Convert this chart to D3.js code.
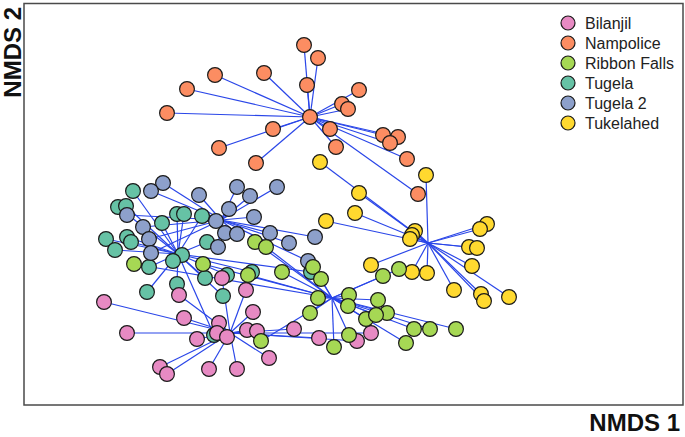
<!DOCTYPE html>
<html>
<head>
<meta charset="utf-8">
<script src="https://cdn.jsdelivr.net/npm/d3@7"></script>
<style>
 body { margin:0; background:#fff; }
 text { font-family: "Liberation Sans", Arial, sans-serif; }
</style>
</head>
<body>
<div id="chart"></div>
<script>
// NMDS scores, one array per site
const groupNames = ['Bilanjil','Nampolice','Ribbon Falls','Tugela','Tugela 2','Tukelahed'];
const groupColors = ['#E78AC3','#FC8D62','#A6D854','#66C2A5','#8DA0CB','#FFD92F'];

const bilanjil = [[-2.46,-0.72],[-2.23,-1.03],[-1.71,-0.65],[-1.66,-0.88],[-1.28,-0.48],[-1.04,-0.60],
 [-0.97,-0.82],[-1.31,-0.93],[-1.53,-1.09],[-1.33,-1.03],[-1.23,-1.07],[-1.03,-1.00],[-0.93,-1.01],
 [-0.56,-0.99],[-0.31,-1.08],[0.07,-1.11],[0.21,-1.03],[-0.81,-1.28],[-1.90,-1.37],[-1.83,-1.44],
 [-1.41,-1.39],[-1.13,-1.39]];

const nampolice = [[-0.46,1.85],[-0.32,1.72],[-1.35,1.55],[-0.86,1.57],[-1.63,1.41],[-0.43,1.45],
 [0.09,1.40],[-1.83,1.17],[-0.08,1.26],[-0.02,1.21],[-0.40,1.13],[-0.77,1.01],[-0.20,1.01],
 [-1.31,0.82],[-0.14,0.83],[0.33,0.95],[0.48,0.93],[0.40,0.87],[0.57,0.71],[-0.94,0.67],[0.68,0.36]];

const ribbonFalls = [[-0.95,-0.12],[-0.84,-0.17],[-2.16,-0.34],[-1.47,-0.34],[-1.02,-0.45],[-0.68,-0.42],
 [-0.37,-0.37],[-0.29,-0.49],[-0.32,-0.68],[-0.40,-0.83],[-0.01,-0.65],[-0.02,-0.76],[0.33,-0.46],
 [0.49,-0.39],[0.28,-0.70],[0.37,-0.83],[0.16,-0.89],[0.26,-0.85],[0.64,-0.99],[0.80,-0.99],
 [1.06,-0.99],[0.56,-1.13],[-0.01,-1.05],[-0.16,-1.17],[-0.89,-1.11]];

const tugela = [[-2.17,0.39],[-2.32,0.23],[-2.24,0.24],[-1.88,0.07],[-1.73,0.16],[-1.66,0.16],
 [-1.48,0.14],[-2.44,-0.09],[-2.23,-0.07],[-2.19,-0.12],[-2.35,-0.20],[-1.43,-0.12],[-1.68,-0.25],
 [-1.77,-0.31],[-2.01,-0.37],[-1.45,-0.48],[-1.73,-0.54],[-2.03,-0.62],[-1.27,-0.66],[-1.23,-0.45],
 [-0.98,-0.42],[-1.36,-1.05],[-0.39,-0.42]];

const tugela2 = [[-1.87,0.47],[-1.99,0.39],[-1.13,0.43],[-1.00,0.34],[-0.73,0.43],[-1.51,0.35],
 [-1.21,0.21],[-1.34,0.09],[-0.96,0.13],[-2.23,0.15],[-2.07,0.03],[-1.25,-0.03],[-1.13,-0.04],
 [-0.80,-0.03],[-2.01,-0.09],[-1.32,-0.17],[-0.61,-0.13],[-0.35,-0.07],[-1.99,-0.23],[-0.42,-0.31]];

const tukelahed = [[-0.30,0.68],[0.76,0.55],[0.09,0.37],[0.05,0.17],[-0.24,0.09],[0.65,-0.01],
 [0.62,-0.05],[0.60,-0.09],[1.37,0.06],[1.30,0.01],[1.19,-0.17],[1.27,-0.18],[1.22,-0.36],
 [0.21,-0.35],[0.62,-0.42],[0.77,-0.43],[1.04,-0.60],[1.31,-0.64],[1.34,-0.71],[1.59,-0.67]];

// spider hubs (group centroids)
const hubs = [[-1.20,-1.03],[-0.40,1.13],[-0.18,-0.68],[-1.72,-0.24],[-1.29,0.10],[0.78,-0.13]];

const groupPoints = [bilanjil, nampolice, ribbonFalls, tugela, tugela2, tukelahed];
// order the points are stacked in
const drawOrder = [1,5,3,4,0,2];

const width = 685, height = 437;
const plot = {left:24, right:683, top:3.5, bottom:405};

const svg = d3.select('#chart').append('svg')
    .attr('width', width)
    .attr('height', height);

const xScale = d3.scaleLinear()
    .domain([-3.26, 3.33])
    .range([plot.left, plot.right]);

const yScale = d3.scaleLinear()
    .domain([-1.75, 2.265])
    .range([plot.bottom, plot.top]);

// spider lines from each hub to its samples
const spider = svg.append('g').attr('class','spider');
groupPoints.forEach((pts, i) => {
  spider.selectAll('line.g' + i)
      .data(pts)
      .join('line')
      .attr('class', 'g' + i)
      .attr('x1', xScale(hubs[i][0]))
      .attr('y1', yScale(hubs[i][1]))
      .attr('x2', d => xScale(d[0]))
      .attr('y2', d => yScale(d[1]))
      .attr('stroke', '#2a46e8')
      .attr('stroke-width', 1.2);
});

// sample points
const pointsG = svg.append('g').attr('class','points');
drawOrder.forEach(i => {
  pointsG.append('g')
      .selectAll('circle')
      .data(groupPoints[i])
      .join('circle')
      .attr('cx', d => xScale(d[0]))
      .attr('cy', d => yScale(d[1]))
      .attr('r', 7.4)
      .attr('fill', groupColors[i])
      .attr('stroke', '#1a1a1a')
      .attr('stroke-width', 1.2);
});

// plot frame
svg.append('rect')
    .attr('x', plot.left)
    .attr('y', plot.top)
    .attr('width', plot.right - plot.left)
    .attr('height', plot.bottom - plot.top)
    .attr('fill', 'none')
    .attr('stroke', '#4a4a4a')
    .attr('stroke-width', 1.5);

// legend
const legend = svg.append('g')
    .attr('transform', 'translate(568,23)');

const legendItems = legend.selectAll('g')
    .data(groupNames)
    .join('g')
    .attr('transform', (d, i) => `translate(0,${i * 20})`);

legendItems.append('circle')
    .attr('r', 7)
    .attr('fill', (d, i) => groupColors[i])
    .attr('stroke', '#1a1a1a')
    .attr('stroke-width', 1.2);

legendItems.append('text')
    .attr('x', 17)
    .attr('y', 6)
    .style('font-size', '16px')
    .style('fill', '#222')
    .text(d => d);

// axis titles
svg.append('text')
    .attr('x', 680)
    .attr('y', 431)
    .attr('text-anchor', 'end')
    .style('font-size', '24px')
    .style('font-weight', 'bold')
    .style('fill', '#111')
    .text('NMDS 1');

svg.append('text')
    .attr('transform', 'translate(21,7) rotate(-90)')
    .attr('text-anchor', 'end')
    .style('font-size', '24px')
    .style('font-weight', 'bold')
    .style('fill', '#111')
    .text('NMDS 2');
</script>
</body>
</html>
